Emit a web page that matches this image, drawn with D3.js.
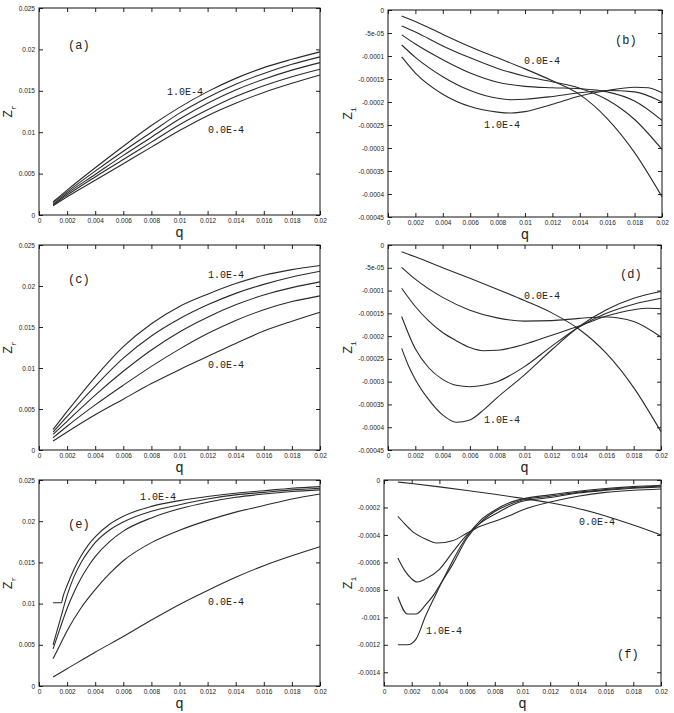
<!DOCTYPE html>
<html>
<head>
<meta charset="utf-8">
<script src="https://cdn.jsdelivr.net/npm/d3@7"></script>
<style>
  body { margin: 0; background: #fff; }
  svg { display: block; }
  .tick text { font-family: "Liberation Sans", Arial, sans-serif; font-size: 6.5px; fill: #222; }
  .note { font-family: "Liberation Mono", "DejaVu Sans Mono", monospace; fill: #222; }
</style>
</head>
<body>
<div id="chart"></div>
<script>
// x ticks shared by every panel
var qTicks = [0, 0.002, 0.004, 0.006, 0.008, 0.01, 0.012, 0.014, 0.016, 0.018, 0.02];
var qTickLabels = ["0", "0.002", "0.004", "0.006", "0.008", "0.01", "0.012", "0.014", "0.016", "0.018", "0.02"];

var zrTicks = [0, 0.005, 0.01, 0.015, 0.02, 0.025];
var zrTickLabels = ["0", "0.005", "0.01", "0.015", "0.02", "0.025"];

var ziTicks = [0, -5e-5, -1e-4, -1.5e-4, -2e-4, -2.5e-4, -3e-4, -3.5e-4, -4e-4, -4.5e-4];
var ziTickLabels = ["0", "-5e-05", "-0.0001", "-0.00015", "-0.0002", "-0.00025", "-0.0003", "-0.00035", "-0.0004", "-0.00045"];

var ziBigTicks = [0, -2e-4, -4e-4, -6e-4, -8e-4, -1e-3, -1.2e-3, -1.4e-3];
var ziBigTickLabels = ["0", "-0.0002", "-0.0004", "-0.0006", "-0.0008", "-0.001", "-0.0012", "-0.0014"];

// (a) Zr, curves from 1.0E-4 (top) to 0.0E-4 (bottom)
var zrA = [
  [[0.001,0.0016],[0.002,0.0030],[0.004,0.0057],[0.006,0.0083],[0.008,0.0108],[0.01,0.0130],[0.012,0.0149],[0.014,0.0165],[0.016,0.0178],[0.018,0.0188],[0.02,0.0197]],
  [[0.001,0.0015],[0.002,0.0028],[0.004,0.0053],[0.006,0.0077],[0.008,0.0100],[0.01,0.0123],[0.012,0.0142],[0.014,0.0158],[0.016,0.0171],[0.018,0.0182],[0.02,0.0191]],
  [[0.001,0.0013],[0.002,0.0026],[0.004,0.0049],[0.006,0.0072],[0.008,0.0094],[0.01,0.0116],[0.012,0.0135],[0.014,0.0151],[0.016,0.0164],[0.018,0.0175],[0.02,0.0184]],
  [[0.001,0.0012],[0.002,0.0024],[0.004,0.0046],[0.006,0.0067],[0.008,0.0088],[0.01,0.0109],[0.012,0.0127],[0.014,0.0143],[0.016,0.0156],[0.018,0.0167],[0.02,0.0176]],
  [[0.001,0.0011],[0.002,0.0022],[0.004,0.0042],[0.006,0.0062],[0.008,0.0082],[0.01,0.0102],[0.012,0.0120],[0.014,0.0135],[0.016,0.0148],[0.018,0.0159],[0.02,0.0169]]
];

// (b) Zi, first curve is 0.0E-4
var ziB = [
  [[0.001,-1.3e-5],[0.002,-2.5e-5],[0.004,-5.3e-5],[0.006,-8.0e-5],[0.008,-1.04e-4],[0.01,-1.28e-4],[0.012,-1.54e-4],[0.014,-1.84e-4],[0.016,-2.36e-4],[0.018,-3.10e-4],[0.02,-4.06e-4]],
  [[0.001,-3.5e-5],[0.002,-4.8e-5],[0.004,-7.8e-5],[0.006,-1.04e-4],[0.008,-1.27e-4],[0.01,-1.44e-4],[0.012,-1.56e-4],[0.014,-1.70e-4],[0.016,-1.95e-4],[0.018,-2.38e-4],[0.02,-3.03e-4]],
  [[0.001,-5.4e-5],[0.002,-7.4e-5],[0.004,-1.08e-4],[0.006,-1.37e-4],[0.008,-1.57e-4],[0.01,-1.66e-4],[0.012,-1.69e-4],[0.014,-1.71e-4],[0.016,-1.78e-4],[0.018,-1.98e-4],[0.02,-2.40e-4]],
  [[0.001,-7.6e-5],[0.002,-1.03e-4],[0.004,-1.45e-4],[0.006,-1.75e-4],[0.008,-1.92e-4],[0.009,-1.95e-4],[0.01,-1.94e-4],[0.012,-1.88e-4],[0.014,-1.80e-4],[0.016,-1.75e-4],[0.018,-1.78e-4],[0.02,-2.00e-4]],
  [[0.001,-1.02e-4],[0.002,-1.37e-4],[0.004,-1.83e-4],[0.006,-2.10e-4],[0.008,-2.22e-4],[0.009,-2.24e-4],[0.01,-2.21e-4],[0.012,-2.05e-4],[0.014,-1.87e-4],[0.016,-1.75e-4],[0.018,-1.68e-4],[0.019,-1.69e-4],[0.02,-1.80e-4]]
];

// (c) Zr
var zrC = [
  [[0.001,0.0025],[0.002,0.0047],[0.004,0.0089],[0.006,0.0126],[0.008,0.0154],[0.01,0.0175],[0.012,0.0190],[0.014,0.0203],[0.016,0.0213],[0.018,0.0220],[0.02,0.0225]],
  [[0.001,0.0022],[0.002,0.0041],[0.004,0.0078],[0.006,0.0112],[0.008,0.0139],[0.01,0.0160],[0.012,0.0177],[0.014,0.0191],[0.016,0.0202],[0.018,0.0211],[0.02,0.0218]],
  [[0.001,0.0019],[0.002,0.0035],[0.004,0.0067],[0.006,0.0096],[0.008,0.0122],[0.01,0.0144],[0.012,0.0162],[0.014,0.0177],[0.016,0.0189],[0.018,0.0198],[0.02,0.0205]],
  [[0.001,0.0015],[0.002,0.0029],[0.004,0.0055],[0.006,0.0079],[0.008,0.0102],[0.01,0.0123],[0.012,0.0142],[0.014,0.0158],[0.016,0.0171],[0.018,0.0181],[0.02,0.0188]],
  [[0.001,0.0011],[0.002,0.0022],[0.004,0.0043],[0.006,0.0062],[0.008,0.0081],[0.01,0.0098],[0.012,0.0114],[0.014,0.0130],[0.016,0.0145],[0.018,0.0157],[0.02,0.0168]]
];

// (d) Zi
var ziD = [
  [[0.001,-1.5e-5],[0.002,-2.6e-5],[0.004,-5.0e-5],[0.006,-7.3e-5],[0.008,-9.7e-5],[0.01,-1.22e-4],[0.012,-1.49e-4],[0.014,-1.85e-4],[0.016,-2.38e-4],[0.018,-3.13e-4],[0.02,-4.10e-4]],
  [[0.001,-4.9e-5],[0.002,-7.5e-5],[0.004,-1.15e-4],[0.006,-1.43e-4],[0.008,-1.60e-4],[0.01,-1.67e-4],[0.012,-1.66e-4],[0.014,-1.61e-4],[0.016,-1.58e-4],[0.018,-1.68e-4],[0.02,-2.02e-4]],
  [[0.001,-9.5e-5],[0.002,-1.35e-4],[0.003,-1.67e-4],[0.004,-1.92e-4],[0.005,-2.10e-4],[0.006,-2.25e-4],[0.007,-2.32e-4],[0.008,-2.31e-4],[0.01,-2.18e-4],[0.012,-1.98e-4],[0.014,-1.78e-4],[0.016,-1.56e-4],[0.018,-1.42e-4],[0.019,-1.39e-4],[0.02,-1.40e-4]],
  [[0.001,-1.57e-4],[0.002,-2.28e-4],[0.003,-2.70e-4],[0.004,-2.95e-4],[0.005,-3.08e-4],[0.006,-3.11e-4],[0.007,-3.08e-4],[0.008,-3.00e-4],[0.01,-2.67e-4],[0.012,-2.22e-4],[0.014,-1.80e-4],[0.016,-1.50e-4],[0.018,-1.30e-4],[0.02,-1.17e-4]],
  [[0.001,-2.27e-4],[0.0015,-2.65e-4],[0.002,-2.95e-4],[0.003,-3.40e-4],[0.004,-3.73e-4],[0.005,-3.89e-4],[0.006,-3.84e-4],[0.007,-3.62e-4],[0.008,-3.35e-4],[0.01,-2.85e-4],[0.012,-2.30e-4],[0.014,-1.79e-4],[0.016,-1.42e-4],[0.018,-1.17e-4],[0.02,-1.02e-4]]
];

// (e) Zr, top curve has a flat start
var zrE = [
  [[0.001,0.0101],[0.0016,0.0101],[0.0017,0.0108],[0.002,0.0122],[0.0025,0.0142],[0.003,0.0158],[0.0035,0.0171],[0.004,0.0181],[0.005,0.0196],[0.006,0.0206],[0.008,0.0218],[0.01,0.0225],[0.012,0.0230],[0.014,0.0234],[0.016,0.0237],[0.018,0.0240],[0.02,0.0242]],
  [[0.001,0.0050],[0.0015,0.0080],[0.002,0.0110],[0.0025,0.0133],[0.003,0.0150],[0.0035,0.0163],[0.004,0.0174],[0.005,0.0189],[0.006,0.0199],[0.008,0.0212],[0.01,0.0220],[0.012,0.0227],[0.014,0.0232],[0.016,0.0235],[0.018,0.0238],[0.02,0.0240]],
  [[0.001,0.0045],[0.0015,0.0070],[0.002,0.0094],[0.0025,0.0114],[0.003,0.0131],[0.0035,0.0145],[0.004,0.0157],[0.005,0.0175],[0.006,0.0188],[0.008,0.0204],[0.01,0.0215],[0.012,0.0223],[0.014,0.0229],[0.016,0.0233],[0.018,0.0236],[0.02,0.0238]],
  [[0.001,0.0033],[0.0015,0.0050],[0.002,0.0067],[0.003,0.0095],[0.004,0.0117],[0.005,0.0136],[0.006,0.0152],[0.008,0.0174],[0.01,0.0189],[0.012,0.0201],[0.014,0.0211],[0.016,0.0219],[0.018,0.0227],[0.02,0.0233]],
  [[0.001,0.0011],[0.002,0.0021],[0.004,0.0041],[0.006,0.0060],[0.008,0.0080],[0.01,0.0099],[0.012,0.0116],[0.014,0.0132],[0.016,0.0146],[0.018,0.0158],[0.02,0.0169]]
];

// (f) Zi
var ziF = [
  [[0.001,-1.5e-5],[0.002,-2.6e-5],[0.004,-5.0e-5],[0.006,-7.6e-5],[0.008,-1.04e-4],[0.01,-1.34e-4],[0.012,-1.66e-4],[0.014,-2.07e-4],[0.016,-2.62e-4],[0.018,-3.28e-4],[0.02,-4.0e-4]],
  [[0.001,-2.64e-4],[0.0015,-3.2e-4],[0.002,-3.7e-4],[0.003,-4.3e-4],[0.0038,-4.59e-4],[0.005,-4.4e-4],[0.006,-3.86e-4],[0.007,-3.35e-4],[0.008,-3.0e-4],[0.009,-2.62e-4],[0.01,-2.18e-4],[0.012,-1.6e-4],[0.014,-1.18e-4],[0.016,-9.0e-5],[0.018,-7.5e-5],[0.02,-6.5e-5]],
  [[0.001,-5.68e-4],[0.0015,-6.6e-4],[0.002,-7.2e-4],[0.0024,-7.43e-4],[0.003,-7.2e-4],[0.004,-6.5e-4],[0.005,-5.2e-4],[0.006,-3.98e-4],[0.007,-3.1e-4],[0.008,-2.5e-4],[0.009,-1.95e-4],[0.01,-1.55e-4],[0.012,-1.28e-4],[0.014,-9.5e-5],[0.016,-7.5e-5],[0.018,-6.0e-5],[0.02,-5.0e-5]],
  [[0.001,-8.5e-4],[0.0017,-9.76e-4],[0.0023,-9.76e-4],[0.003,-9.1e-4],[0.0036,-8.35e-4],[0.004,-7.7e-4],[0.005,-6.07e-4],[0.006,-4.22e-4],[0.007,-3.05e-4],[0.008,-2.3e-4],[0.009,-1.8e-4],[0.01,-1.45e-4],[0.012,-1.18e-4],[0.014,-9.0e-5],[0.016,-7.0e-5],[0.018,-5.5e-5],[0.02,-4.4e-5]],
  [[0.001,-1.2e-3],[0.0017,-1.2e-3],[0.0023,-1.16e-3],[0.003,-9.9e-4],[0.004,-7.8e-4],[0.005,-5.8e-4],[0.006,-4.1e-4],[0.007,-2.9e-4],[0.008,-2.2e-4],[0.009,-1.68e-4],[0.01,-1.38e-4],[0.012,-1.08e-4],[0.014,-8.2e-5],[0.016,-6.2e-5],[0.018,-4.8e-5],[0.02,-3.8e-5]]
];

var W = 674, H = 713;

// plot boxes [left, top, right, bottom] and annotation offsets from the box corner
var panels = [
  { box: [39, 8, 320, 215], yDomain: [0, 0.025], yTicks: zrTicks, yLabels: zrTickLabels, series: zrA, sub: "r", labX: 12,
    notes: [["(a)", 29, 41, 12], ["1.0E-4", 128, 87, 10], ["0.0E-4", 169, 125, 10]] },
  { box: [388, 10, 662, 217], yDomain: [-4.5e-4, 0], yTicks: ziTicks, yLabels: ziTickLabels, series: ziB, sub: "i", labX: 352,
    notes: [["(b)", 227, 34, 12], ["0.0E-4", 136, 54, 10], ["1.0E-4", 96, 118, 10]] },
  { box: [39, 245, 320, 450], yDomain: [0, 0.025], yTicks: zrTicks, yLabels: zrTickLabels, series: zrC, sub: "r", labX: 12,
    notes: [["(c)", 29, 38, 12], ["1.0E-4", 169, 33, 10], ["0.0E-4", 169, 123, 10]] },
  { box: [388, 245, 661, 450], yDomain: [-4.5e-4, 0], yTicks: ziTicks, yLabels: ziTickLabels, series: ziD, sub: "i", labX: 352,
    notes: [["(d)", 232, 33, 12], ["0.0E-4", 136, 54, 10], ["1.0E-4", 96, 178, 10]] },
  { box: [39, 480, 320, 686], yDomain: [0, 0.025], yTicks: zrTicks, yLabels: zrTickLabels, series: zrE, sub: "r", labX: 12,
    notes: [["1.0E-4", 101, 20, 10], ["(e)", 29, 48, 12], ["0.0E-4", 169, 125, 10]] },
  { box: [384, 480, 661, 686], yDomain: [-1.5e-3, 0], yTicks: ziBigTicks, yLabels: ziBigTickLabels, series: ziF, sub: "i", labX: 352,
    notes: [["0.0E-4", 195, 45, 10], ["1.0E-4", 42, 154, 10], ["(f)", 233, 178, 12]] }
];

var svg = d3.select('#chart').append('svg')
  .attr('width', W)
  .attr('height', H);

panels.forEach(function (p) {
  var x0 = p.box[0], y0 = p.box[1], x1 = p.box[2], y1 = p.box[3];

  var x = d3.scaleLinear().domain([0, 0.02]).range([x0, x1]);
  var y = d3.scaleLinear().domain(p.yDomain).range([y1, y0]);

  var g = svg.append('g');

  // axes with inward ticks on all four sides
  g.append('g')
    .attr('transform', 'translate(0,' + y1 + ')')
    .call(d3.axisBottom(x).tickValues(qTicks).tickFormat(function (d, i) { return qTickLabels[i]; })
      .tickSizeInner(-4).tickSizeOuter(0).tickPadding(3));
  g.append('g')
    .attr('transform', 'translate(0,' + y0 + ')')
    .call(d3.axisTop(x).tickValues(qTicks).tickFormat('').tickSizeInner(-4).tickSizeOuter(0));
  g.append('g')
    .attr('transform', 'translate(' + x0 + ',0)')
    .call(d3.axisLeft(y).tickValues(p.yTicks).tickFormat(function (d, i) { return p.yLabels[i]; })
      .tickSizeInner(-4).tickSizeOuter(0).tickPadding(4));
  g.append('g')
    .attr('transform', 'translate(' + x1 + ',0)')
    .call(d3.axisRight(y).tickValues(p.yTicks).tickFormat('').tickSizeInner(-4).tickSizeOuter(0));

  g.selectAll('.domain').remove();
  g.selectAll('.tick line').attr('stroke', '#222');
  g.selectAll('g').attr('font-family', null).attr('font-size', null);

  g.append('rect')
    .attr('x', x0).attr('y', y0)
    .attr('width', x1 - x0).attr('height', y1 - y0)
    .attr('fill', 'none')
    .attr('stroke', '#111')
    .attr('stroke-width', 1);

  var line = d3.line()
    .x(function (d) { return x(d[0]); })
    .y(function (d) { return y(d[1]); })
    .curve(d3.curveMonotoneX);

  g.selectAll('path.curve')
    .data(p.series)
    .enter()
    .append('path')
    .attr('class', 'curve')
    .attr('d', line)
    .attr('fill', 'none')
    .attr('stroke', '#2a2a2a')
    .attr('stroke-width', 1.1);

  p.notes.forEach(function (n) {
    g.append('text')
      .attr('class', 'note')
      .attr('x', x0 + n[1])
      .attr('y', y0 + n[2])
      .attr('font-size', n[3])
      .text(n[0]);
  });

  // axis titles
  g.append('text')
    .attr('class', 'note')
    .attr('x', (x0 + x1) / 2)
    .attr('y', y1 + 22)
    .attr('text-anchor', 'middle')
    .attr('font-size', 14)
    .text('q');

  var yl = g.append('text')
    .attr('class', 'note')
    .attr('transform', 'translate(' + p.labX + ',' + ((y0 + y1) / 2) + ') rotate(-90)')
    .attr('text-anchor', 'middle')
    .attr('font-size', 13);
  yl.append('tspan').text('Z');
  yl.append('tspan').attr('font-size', 8).attr('dy', 4).text(p.sub);
});
</script>
</body>
</html>
